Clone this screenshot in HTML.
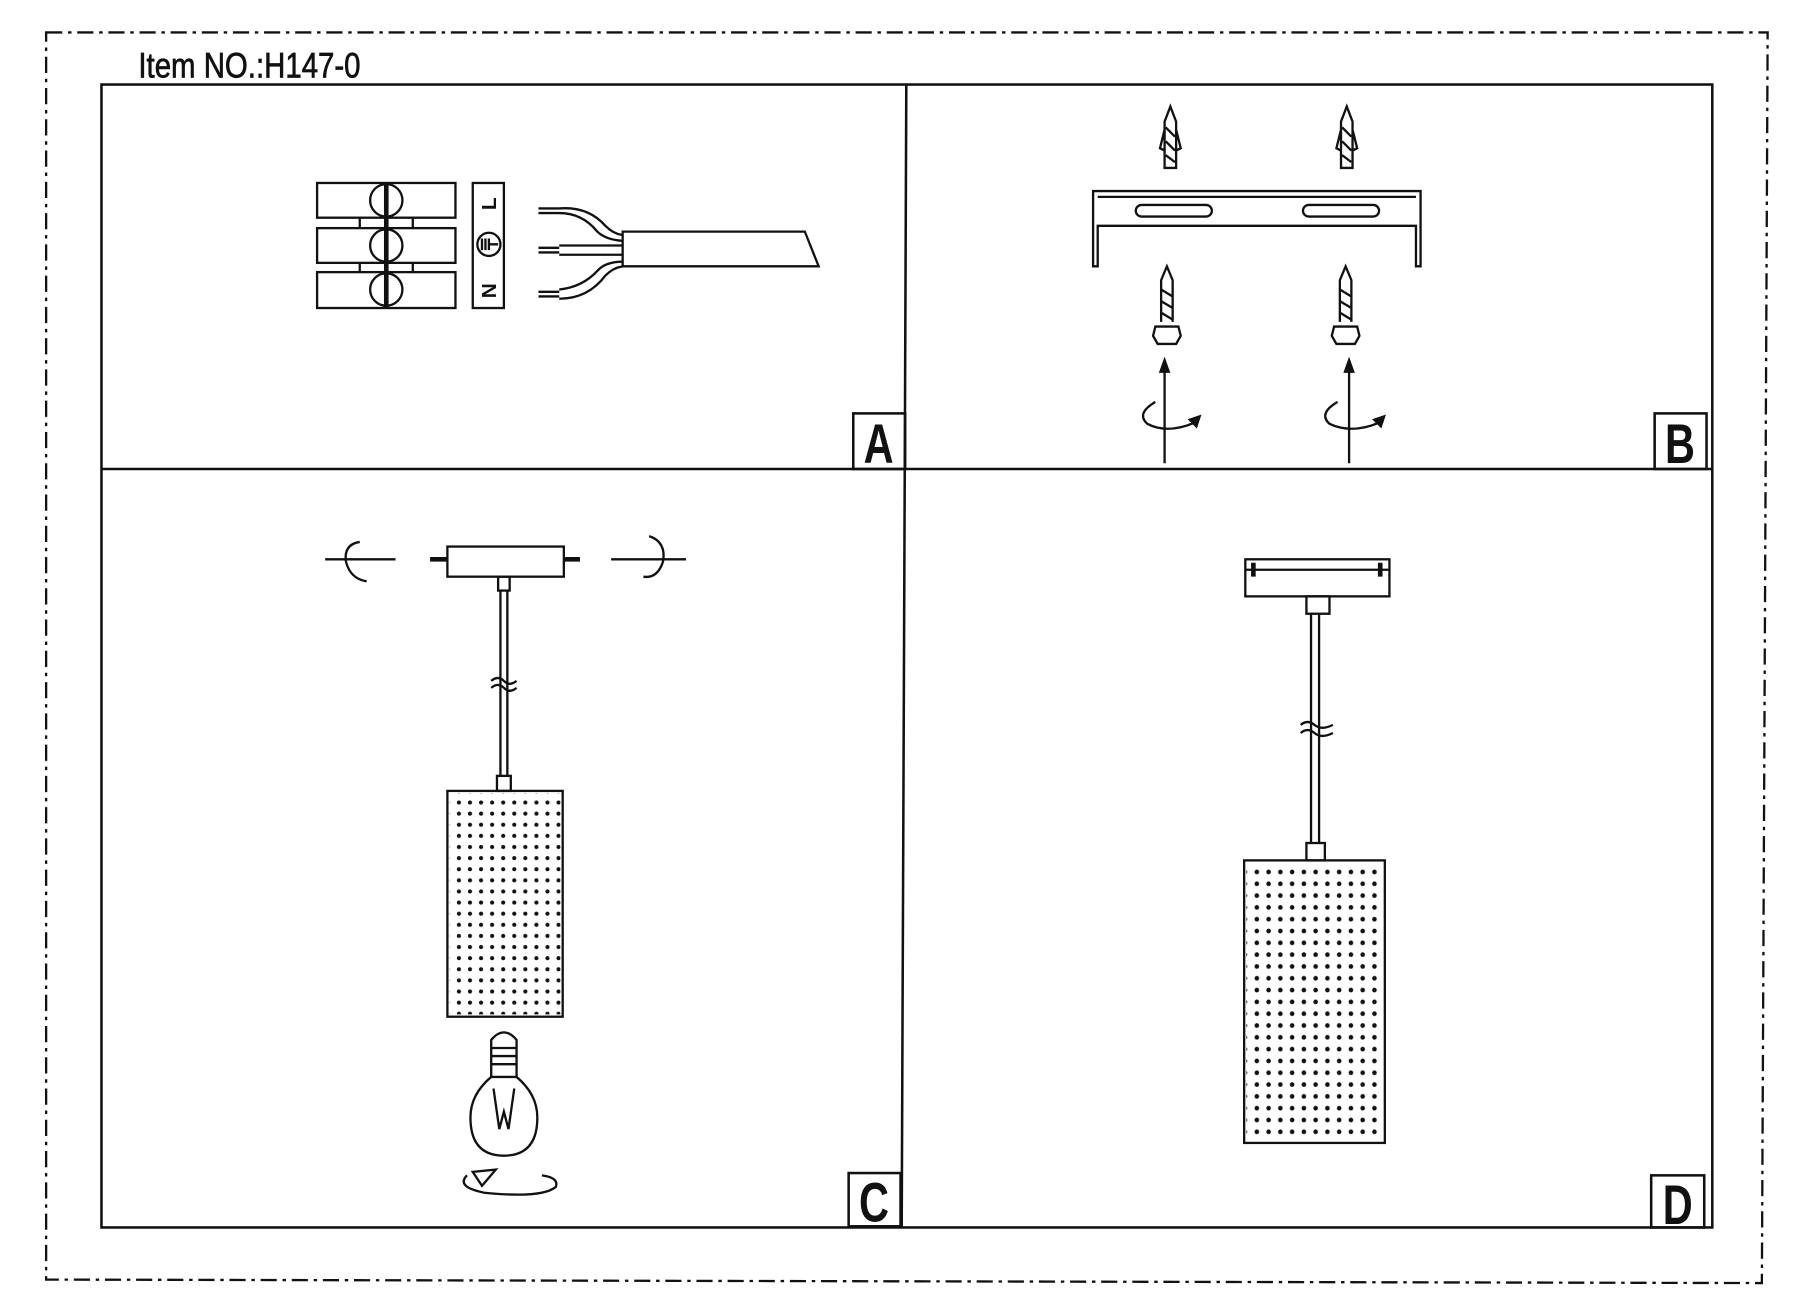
<!DOCTYPE html>
<html><head><meta charset="utf-8"><style>
html,body{margin:0;padding:0;background:#fff;}
svg{display:block;}
text{font-family:"Liberation Sans",sans-serif;}
</style></head><body>
<svg width="1808" height="1312" viewBox="0 0 1568 1133" preserveAspectRatio="none" xmlns="http://www.w3.org/2000/svg">
<defs>
<pattern id="dc" x="395" y="690" width="9.6" height="9.6" patternUnits="userSpaceOnUse"><circle cx="3" cy="3" r="1.8" fill="#111"/></pattern>
<pattern id="dd" x="1087" y="750" width="10.2" height="10.2" patternUnits="userSpaceOnUse"><circle cx="3" cy="3" r="2" fill="#111"/></pattern>
</defs>
<rect width="1568" height="1133" fill="#fff"/>
<g fill="none" stroke="#111" stroke-width="2" stroke-dasharray="14,5,3,5">
<path d="M40 28 L1533 28 L1528 1108 L40 1105 Z"/>
</g>
<text x="120" y="67" font-size="30" stroke="#111" stroke-width="0.6" transform="translate(120 0) scale(0.85 1) translate(-120 0)" fill="#111">Item NO.:H147-0</text>
<g fill="none" stroke="#111" stroke-width="2.2">
<rect x="88" y="73" width="1397" height="987"/>
<line x1="786" y1="73" x2="782" y2="1060"/>
<line x1="88" y1="405" x2="1485" y2="405"/>
<rect x="740" y="357" width="45" height="48"/>
<rect x="1435" y="357" width="45" height="48"/>
<rect x="736" y="1013" width="45" height="46"/>
<rect x="1432" y="1015" width="46" height="45"/>
</g>
<g font-size="48" font-weight="bold" fill="#111" text-anchor="middle">
<text x="762" y="400" transform="translate(762 0) scale(0.75 1) translate(-762 0)">A</text>
<text x="1457" y="400" transform="translate(1457 0) scale(0.75 1) translate(-1457 0)">B</text>
<text x="758" y="1055" transform="translate(758 0) scale(0.75 1) translate(-758 0)">C</text>
<text x="1455" y="1057" transform="translate(1455 0) scale(0.75 1) translate(-1455 0)">D</text>
</g>
<!-- Panel A -->
<g fill="none" stroke="#111" stroke-width="2">
<rect x="275" y="158" width="120" height="30"/>
<rect x="275" y="197" width="120" height="30"/>
<rect x="275" y="235" width="120" height="31"/>
<line x1="312" y1="188" x2="312" y2="197"/><line x1="312" y1="227" x2="312" y2="235"/>
<line x1="358" y1="188" x2="358" y2="197"/><line x1="358" y1="227" x2="358" y2="235"/>
<circle cx="335" cy="173" r="14"/><circle cx="335" cy="212" r="14"/><circle cx="335" cy="250" r="14"/>
<line x1="335" y1="158" x2="335" y2="266" stroke-width="4"/>
<rect x="410" y="158" width="27" height="108"/>
<circle cx="424" cy="211" r="10"/>
<path d="M418 206 V216 M421 206 V216 M424 206 V216 M424 211 H432"/>
<path d="M467 180 H485 M467 184 H485 M485 180 Q510 178 525 195 Q532 202 540 203 M485 184 Q505 184 518 200 Q525 207 540 208"/>
<path d="M467 214 H485 M467 218 H485 M485 212 H540 M485 220 H540"/>
<path d="M467 252 H485 M467 256 H485 M485 250 Q505 248 518 234 Q525 226 540 226 M485 258 Q510 258 525 238 Q532 231 540 230"/>
<path d="M540 200 H698 L710 230 H540 Z"/>
</g>
<text x="424" y="182" font-size="18" font-weight="bold" text-anchor="middle" transform="rotate(-90 424 176)" fill="#111">L</text>
<text x="424" y="257" font-size="18" font-weight="bold" text-anchor="middle" transform="rotate(-90 424 251)" fill="#111">N</text>
<!-- Panel B -->
<g fill="none" stroke="#111" stroke-width="2">
<path d="M948 230 V165 H1232 V230 H1228 V195 H952 V230 Z"/>
<line x1="952" y1="170" x2="1228" y2="170"/>
<rect x="985" y="177" width="66" height="10" rx="5"/>
<rect x="1130" y="177" width="66" height="10" rx="5"/>
<path d="M1010 145 V105 L1015 92 L1020 105 V145 Z M1011 110 L1019 118 M1011 122 L1019 130 M1011 134 L1019 140 M1010 112 L1006 128 L1010 130 M1020 112 L1024 128 L1020 130"/>
<path d="M1163 145 V105 L1168 92 L1173 105 V145 Z M1164 110 L1172 118 M1164 122 L1172 130 M1164 134 L1172 140 M1163 112 L1159 128 L1163 130 M1173 112 L1177 128 L1173 130"/>
<path d="M1007 278 V242 L1012 230 L1017 242 V278 M1007 250 L1017 256 M1007 260 L1017 266 M1007 270 L1017 276"/>
<path d="M1162 278 V242 L1167 230 L1172 242 V278 M1162 250 L1172 256 M1162 260 L1172 266 M1162 270 L1172 276"/>
<path d="M1002 282 H1022 L1024 290 L1020 297 H1004 L1000 290 Z"/>
<path d="M1157 282 H1177 L1179 290 L1175 297 H1159 L1155 290 Z"/>
<line x1="1010" y1="400" x2="1010" y2="318"/>
<line x1="1170" y1="400" x2="1170" y2="318"/>
<path d="M1002 347 Q985 357 995 366 Q1012 375 1036 365"/>
<path d="M1160 347 Q1143 357 1153 366 Q1172 375 1196 365"/>
</g>
<path d="M1010 308 L1005 322 H1015 Z M1170 308 L1165 322 H1175 Z M1042 358 L1030 362 L1038 370 Z M1202 358 L1190 362 L1198 370 Z" fill="#111"/>
<!-- Panel C -->
<g fill="none" stroke="#111" stroke-width="2">
<line x1="282" y1="483" x2="343" y2="483"/><path d="M312 468 Q298 470 300 485 Q304 500 318 502"/>
<line x1="530" y1="483" x2="595" y2="483"/><path d="M563 463 Q578 468 575 485 Q570 500 558 498"/>
<rect x="388" y="472" width="101" height="26"/>
<line x1="373" y1="483" x2="388" y2="483" stroke-width="4"/><line x1="489" y1="483" x2="503" y2="483" stroke-width="4"/>
<rect x="432" y="498" width="10" height="12"/>
<line x1="434" y1="510" x2="434" y2="670"/><line x1="440" y1="510" x2="440" y2="670"/>
<path d="M426 588 Q432 583 437 588 Q442 593 448 588 M426 594 Q432 589 437 594 Q442 599 448 594"/>
<rect x="431" y="670" width="12" height="13"/>
<rect x="388" y="683" width="100" height="195"/>
<rect x="390" y="685" width="96" height="191" fill="url(#dc)" stroke="none"/>
<path d="M426 898 Q437 885 448 898 V930 H426 Z M426 905 H448 M426 912 H448 M426 919 H448"/>
<path d="M426 930 Q408 945 408 965 Q408 998 437 998 Q466 998 466 965 Q466 945 448 930"/>
<path d="M428 940 L433 975 L437 960 L441 975 L446 940"/>
<path d="M405 1015 Q395 1025 420 1030 Q470 1035 482 1025 Q485 1017 470 1015"/>
<path d="M410 1012 L430 1010 L418 1024 Z"/>
</g>
<!-- Panel D -->
<g fill="none" stroke="#111" stroke-width="2">
<rect x="1080" y="483" width="125" height="32"/>
<line x1="1080" y1="492" x2="1205" y2="492"/>
<path d="M1087 486 V498 M1197 486 V498" stroke-width="4"/>
<rect x="1133" y="515" width="20" height="15"/>
<line x1="1137" y1="530" x2="1137" y2="728"/><line x1="1144" y1="530" x2="1144" y2="728"/>
<path d="M1128 626 Q1134 621 1140 626 Q1146 631 1156 626 M1128 633 Q1134 628 1140 633 Q1146 638 1156 633"/>
<rect x="1133" y="728" width="16" height="15"/>
<rect x="1079" y="743" width="122" height="244"/>
<rect x="1081" y="745" width="118" height="240" fill="url(#dd)" stroke="none"/>
</g>
</svg>
</body></html>
